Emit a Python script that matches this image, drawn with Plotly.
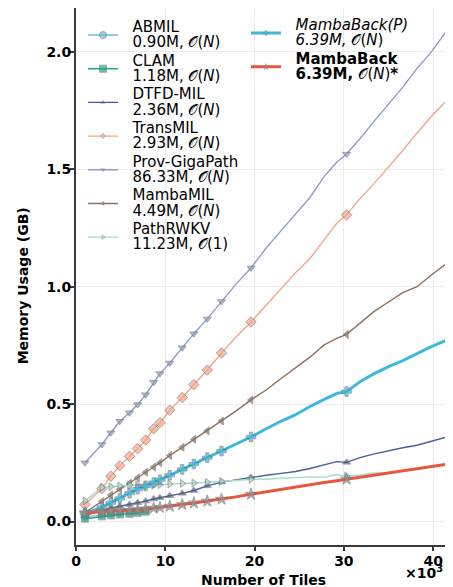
import plotly.graph_objects as go

# ---------------- data (x in thousands of tiles, y in GB) ----------------
X_TILES = [1.0, 2.9, 3.9, 4.9, 6.0, 6.9, 7.8, 8.7, 9.4, 10.5, 11.9, 13.2, 14.7, 16.3,
           17.9, 19.6, 21.3, 23.0, 24.6, 26.2, 27.8, 29.2, 30.3, 31.8, 33.4, 35.0,
           36.6, 38.2, 39.8, 41.7]
MARK_X = [1.0, 2.9, 3.9, 4.9, 6.0, 6.9, 7.8, 8.7, 9.4, 10.5, 11.9, 13.2, 14.7, 16.3, 19.6, 30.3]

abmil = [0.020, 0.030, 0.034, 0.038, 0.042, 0.045, 0.049]
clam = [0.012, 0.022, 0.026, 0.030, 0.033, 0.037, 0.042]
dtfd = [0.025, 0.048, 0.058, 0.065, 0.073, 0.080, 0.087, 0.096, 0.101, 0.110, 0.120, 0.132,
        0.152, 0.168, 0.178, 0.187, 0.197, 0.205, 0.213, 0.226, 0.240, 0.255, 0.252, 0.272,
        0.288, 0.302, 0.314, 0.325, 0.342, 0.362]
transmil = [0.072, 0.140, 0.193, 0.238, 0.278, 0.310, 0.347, 0.395, 0.421, 0.474, 0.528, 0.583,
            0.645, 0.718, 0.785, 0.850, 0.920, 0.990, 1.060, 1.120, 1.200, 1.270, 1.306, 1.375,
            1.440, 1.510, 1.580, 1.655, 1.725, 1.800]
prov = [0.250, 0.328, 0.378, 0.427, 0.463, 0.498, 0.540, 0.593, 0.630, 0.675, 0.740, 0.800,
        0.863, 0.937, 1.010, 1.080, 1.165, 1.240, 1.310, 1.380, 1.470, 1.530, 1.565, 1.630,
        1.705, 1.780, 1.850, 1.930, 2.000, 2.100]
mambamil = [0.038, 0.085, 0.113, 0.137, 0.163, 0.186, 0.210, 0.232, 0.250, 0.281, 0.316, 0.350,
            0.386, 0.428, 0.470, 0.518, 0.560, 0.610, 0.655, 0.700, 0.752, 0.780, 0.797, 0.845,
            0.895, 0.935, 0.975, 1.000, 1.050, 1.105]
pathrwkv = [0.088, 0.145, 0.148, 0.152, 0.155, 0.156, 0.153, 0.155, 0.157, 0.160, 0.162, 0.164,
            0.167, 0.171, 0.175, 0.180, 0.180, 0.184, 0.187, 0.190, 0.188, 0.200, 0.193, 0.198,
            0.207, 0.207]
mambaback_p = [0.035, 0.060, 0.080, 0.098, 0.121, 0.138, 0.152, 0.166, 0.178, 0.197, 0.222, 0.245,
               0.272, 0.300, 0.330, 0.360, 0.395, 0.428, 0.455, 0.490, 0.520, 0.545, 0.553, 0.595,
               0.630, 0.660, 0.685, 0.715, 0.745, 0.775]
mambaback = [0.037, 0.041, 0.044, 0.046, 0.048, 0.050, 0.053, 0.057, 0.060, 0.065, 0.072, 0.079,
             0.087, 0.095, 0.105, 0.116, 0.127, 0.137, 0.147, 0.156, 0.166, 0.174, 0.180, 0.189,
             0.198, 0.207, 0.216, 0.225, 0.234, 0.245]

X_TICKS = [0, 10, 20, 30, 40]
Y_TICKS = [0.0, 0.5, 1.0, 1.5, 2.0]

O = "\U0001D4AA"
SP = "&nbsp;&nbsp;"
LBL = {
    "ABMIL": f"{SP}ABMIL<br>{SP}0.90M, {O}(<i>N</i>)",
    "CLAM": f"{SP}CLAM<br>{SP}1.18M, {O}(<i>N</i>)",
    "DTFD": f"{SP}DTFD-MIL<br>{SP}2.36M, {O}(<i>N</i>)",
    "TransMIL": f"{SP}TransMIL<br>{SP}2.93M, {O}(<i>N</i>)",
    "Prov": f"{SP}Prov-GigaPath<br>{SP}86.33M, {O}(<i>N</i>)",
    "MambaMIL": f"{SP}MambaMIL<br>{SP}4.49M, {O}(<i>N</i>)",
    "PathRWKV": f"{SP}PathRWKV<br>{SP}11.23M, {O}(1)",
    "MambaBackP": f"{SP}<i>MambaBack(P)</i><br>{SP}<i>6.39M, </i>{O}(<i>N</i>)",
    "MambaBack": f"{SP}<b>MambaBack</b><br>{SP}<b>6.39M, </b>{O}(<i>N</i>)<b>*</b>",
}

EDGE = "rgba(115,115,115,0.9)"

fig = go.Figure()


def add(y, label, color, symbol, lw, legend, msize=7, mcolor=None):
    xs = X_TILES[:len(y)]
    sizes = [msize if x in MARK_X else 0 for x in xs]
    widths = [1 if x in MARK_X else 0 for x in xs]
    fig.add_trace(go.Scatter(
        x=xs, y=y, mode="lines+markers",
        name=f'<span style="font-size:15px">{label}</span>',
        legend=legend,
        line=dict(color=color, width=lw),
        marker=dict(symbol=symbol, size=sizes, color=mcolor or color,
                    line=dict(color=EDGE, width=widths)),
    ))


add(abmil, LBL["ABMIL"], "#68c3d9", "circle", 1.4, "legend")
add(clam, LBL["CLAM"], "#22a68b", "square", 1.4, "legend")
add(dtfd, LBL["DTFD"], "#4a5b99", "triangle-up", 1.4, "legend")
add(transmil, LBL["TransMIL"], "#f6a68c", "diamond", 1.4, "legend", msize=8)
add(prov, LBL["Prov"], "#8f9cc9", "triangle-down", 1.4, "legend")
add(mambamil, LBL["MambaMIL"], "#8d705f", "triangle-left", 1.4, "legend")
add(pathrwkv, LBL["PathRWKV"], "#a5dccb", "triangle-right", 1.4, "legend")
add(mambaback_p, LBL["MambaBackP"], "#3eb9dd", "cross", 3, "legend2", msize=8)
add(mambaback, LBL["MambaBack"], "#e9553d", "star", 3, "legend2", msize=9, mcolor="#8e8e8e")

AX_FONT = dict(family="DejaVu Sans", size=14, color="black", weight="bold")

# the page body adds an 8px offset; figure is sized to fit the 453x587 window
fig.update_layout(
    width=445, height=579,
    margin=dict(l=68, r=2, t=0, b=42),
    paper_bgcolor="white", plot_bgcolor="white",
    font=dict(family="DejaVu Sans", color="black"),
    xaxis=dict(range=[0, 42], tickvals=X_TICKS, ticktext=[str(v) for v in X_TICKS],
               showgrid=True, gridcolor="#ececec", gridwidth=1, zeroline=False,
               showline=True, linecolor="#3a3a3a", linewidth=2,
               ticks="outside", ticklen=4, tickwidth=1.5, tickcolor="#3a3a3a",
               ticklabelstandoff=-2, tickfont=AX_FONT),
    yaxis=dict(range=[-0.1, 2.187], tickvals=Y_TICKS, ticktext=[f"{v:.1f}" for v in Y_TICKS],
               showgrid=True, gridcolor="#ececec", gridwidth=1, zeroline=False,
               showline=True, linecolor="#3a3a3a", linewidth=2,
               ticks="outside", ticklen=4, tickwidth=1.5, tickcolor="#3a3a3a",
               ticklabelstandoff=-4, tickfont=AX_FONT),
    legend=dict(x=0.0187, y=0.9903, xanchor="left", yanchor="top",
                bgcolor="rgba(0,0,0,0)", font=dict(family="DejaVu Sans", size=11.8, color="black"),
                tracegroupgap=0),
    legend2=dict(x=0.4533, y=0.994, xanchor="left", yanchor="top",
                 bgcolor="rgba(0,0,0,0)", font=dict(family="DejaVu Sans", size=11.8, color="black"),
                 tracegroupgap=0),
    showlegend=True,
)

fig.add_annotation(text="Number of Tiles", xref="paper", yref="paper", x=0.501, y=-0.0661,
                   xanchor="center", yanchor="middle", showarrow=False, font=AX_FONT)
fig.add_annotation(text="×10<sup>3</sup>", xref="paper", yref="paper", x=0.985, y=-0.0503,
                   xanchor="right", yanchor="middle", showarrow=False, font=AX_FONT)
fig.add_annotation(text="Memory Usage (GB)", xref="paper", yref="paper", x=-0.1405, y=0.4823,
                   xanchor="center", yanchor="middle", textangle=-90, showarrow=False, font=AX_FONT)

fig.write_html("out.html")
